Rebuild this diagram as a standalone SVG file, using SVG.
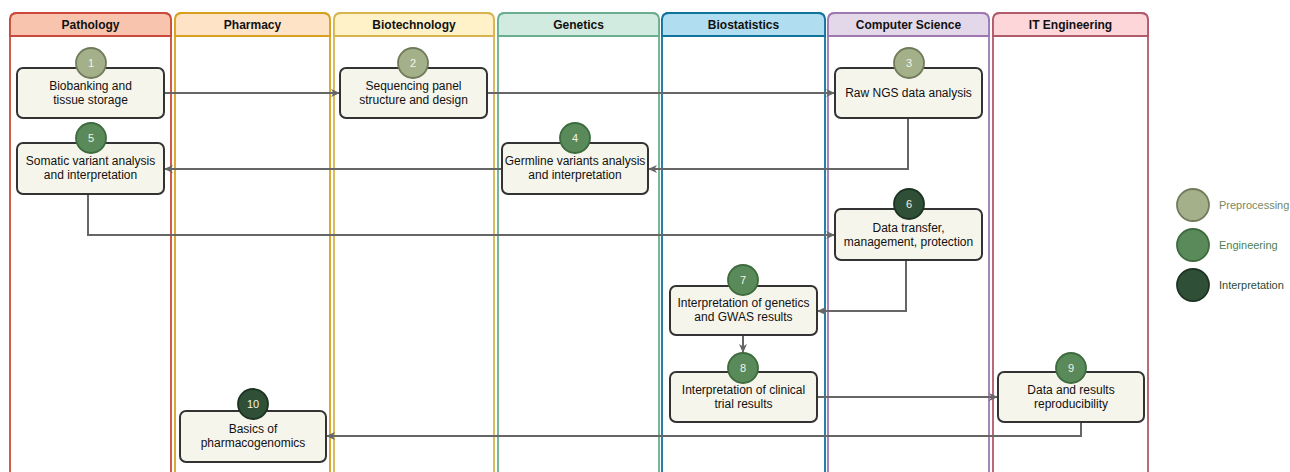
<svg xmlns="http://www.w3.org/2000/svg" width="1290" height="472" viewBox="0 0 1290 472">
<defs>
<style>
.lane{fill:#ffffff;stroke-width:1.8}
.hdr{stroke-width:1.8}
.ht{font-family:"Liberation Sans",Arial,sans-serif;font-weight:bold;font-size:12px;text-anchor:middle;fill:#111}
.box{fill:#f6f5ec;stroke:#333333;stroke-width:2}
.t{font-family:"Liberation Sans",Arial,sans-serif;font-size:12px;text-anchor:middle;fill:#111}
.n{font-family:"Liberation Sans",Arial,sans-serif;font-size:11px;text-anchor:middle;fill:#f4f4ea}
.pre{fill:#a3b08a;stroke:#6f7b5a;stroke-width:1.8}
.eng{fill:#5a8a5a;stroke:#3d6b3d;stroke-width:1.8}
.int{fill:#2f5036;stroke:#1e3323;stroke-width:1.8}
.c{fill:none;stroke:#666666;stroke-width:2}
.lg{font-family:"Liberation Sans",Arial,sans-serif;font-size:11px}
</style>
<marker id="arr" markerWidth="10" markerHeight="10" refX="8" refY="5" orient="auto" markerUnits="userSpaceOnUse">
<path d="M0,1 L9,5 L0,9 L2.5,5 Z" fill="#666666"/>
</marker>
</defs>

<g id="lanes">
<g id="lane-pathology">
<path class="lane" stroke="#c94a3a" d="M10,476 V20 Q10,13 17,13 H164 Q171,13 171,20 V476"/>
<path class="hdr" fill="#f9c4ae" stroke="#c94a3a" d="M10,36 V20 Q10,13 17,13 H164 Q171,13 171,20 V36 Z"/>
<text class="ht" x="90.5" y="29">Pathology</text>
</g>
<g id="lane-pharmacy">
<path class="lane" stroke="#d9a020" d="M175,476 V20 Q175,13 182,13 H323 Q330,13 330,20 V476"/>
<path class="hdr" fill="#ffe3c6" stroke="#d9a020" d="M175,36 V20 Q175,13 182,13 H323 Q330,13 330,20 V36 Z"/>
<text class="ht" x="252.5" y="29">Pharmacy</text>
</g>
<g id="lane-biotech">
<path class="lane" stroke="#d8b450" d="M334,476 V20 Q334,13 341,13 H487 Q494,13 494,20 V476"/>
<path class="hdr" fill="#fff1c8" stroke="#d8b450" d="M334,36 V20 Q334,13 341,13 H487 Q494,13 494,20 V36 Z"/>
<text class="ht" x="414" y="29">Biotechnology</text>
</g>
<g id="lane-genetics">
<path class="lane" stroke="#6aae8f" d="M498,476 V20 Q498,13 505,13 H652 Q659,13 659,20 V476"/>
<path class="hdr" fill="#d2ebe0" stroke="#6aae8f" d="M498,36 V20 Q498,13 505,13 H652 Q659,13 659,20 V36 Z"/>
<text class="ht" x="578.5" y="29">Genetics</text>
</g>
<g id="lane-biostat">
<path class="lane" stroke="#10739e" d="M662,476 V20 Q662,13 669,13 H818 Q825,13 825,20 V476"/>
<path class="hdr" fill="#b1ddf0" stroke="#10739e" d="M662,36 V20 Q662,13 669,13 H818 Q825,13 825,20 V36 Z"/>
<text class="ht" x="743.5" y="29">Biostatistics</text>
</g>
<g id="lane-cs">
<path class="lane" stroke="#9f78b2" d="M828,476 V20 Q828,13 835,13 H982 Q989,13 989,20 V476"/>
<path class="hdr" fill="#e3d7ea" stroke="#9f78b2" d="M828,36 V20 Q828,13 835,13 H982 Q989,13 989,20 V36 Z"/>
<text class="ht" x="908.5" y="29">Computer Science</text>
</g>
<g id="lane-it">
<path class="lane" stroke="#b05a6a" d="M993,476 V20 Q993,13 1000,13 H1141 Q1148,13 1148,20 V476"/>
<path class="hdr" fill="#fdd6da" stroke="#b05a6a" d="M993,36 V20 Q993,13 1000,13 H1141 Q1148,13 1148,20 V36 Z"/>
<text class="ht" x="1070.5" y="29">IT Engineering</text>
</g>
</g>

<g id="connectors">
<path class="c" marker-end="url(#arr)" d="M164,93 H339"/>
<path class="c" marker-end="url(#arr)" d="M487,93 H834"/>
<path class="c" marker-end="url(#arr)" d="M908,118 V169 H649"/>
<path class="c" marker-end="url(#arr)" d="M502,169 H165"/>
<path class="c" marker-end="url(#arr)" d="M88,194 V235 H834"/>
<path class="c" marker-end="url(#arr)" d="M906,260 V311 H818"/>
<path class="c" marker-end="url(#arr)" d="M743,335 V352"/>
<path class="c" marker-end="url(#arr)" d="M817,397 H997"/>
<path class="c" marker-end="url(#arr)" d="M1081,422 V436 H327"/>
</g>

<g id="node1">
<rect class="box" x="17" y="68" width="147" height="50" rx="6"/>
<text class="t" x="90.5" y="90">Biobanking and</text>
<text class="t" x="90.5" y="104">tissue storage</text>
<circle class="pre" cx="91" cy="63" r="15"/>
<text class="n" x="91" y="67">1</text>
</g>
<g id="node2">
<rect class="box" x="340" y="68" width="147" height="50" rx="6"/>
<text class="t" x="413.5" y="90">Sequencing panel</text>
<text class="t" x="413.5" y="104">structure and design</text>
<circle class="pre" cx="413" cy="63" r="15"/>
<text class="n" x="413" y="67">2</text>
</g>
<g id="node3">
<rect class="box" x="835" y="68" width="147" height="50" rx="6"/>
<text class="t" x="908.5" y="97">Raw NGS data analysis</text>
<circle class="pre" cx="909" cy="63" r="15"/>
<text class="n" x="909" y="67">3</text>
</g>
<g id="node4">
<rect class="box" x="502" y="143" width="146" height="51" rx="6"/>
<text class="t" x="575" y="165">Germline variants analysis</text>
<text class="t" x="575" y="179">and interpretation</text>
<circle class="eng" cx="575" cy="138" r="15"/>
<text class="n" x="575" y="142">4</text>
</g>
<g id="node5">
<rect class="box" x="17" y="143" width="147" height="51" rx="6"/>
<text class="t" x="90.5" y="165">Somatic variant analysis</text>
<text class="t" x="90.5" y="179">and interpretation</text>
<circle class="eng" cx="91" cy="138" r="15"/>
<text class="n" x="91" y="142">5</text>
</g>
<g id="node6">
<rect class="box" x="835" y="209" width="147" height="51" rx="6"/>
<text class="t" x="908.5" y="232">Data transfer,</text>
<text class="t" x="908.5" y="246">management, protection</text>
<circle class="int" cx="909" cy="204" r="15"/>
<text class="n" x="909" y="208">6</text>
</g>
<g id="node7">
<rect class="box" x="670" y="286" width="147" height="49" rx="6"/>
<text class="t" x="743.5" y="307">Interpretation of genetics</text>
<text class="t" x="743.5" y="321">and GWAS results</text>
<circle class="eng" cx="743" cy="280" r="15"/>
<text class="n" x="743" y="284">7</text>
</g>
<g id="node8">
<rect class="box" x="670" y="372" width="147" height="50" rx="6"/>
<text class="t" x="743.5" y="394">Interpretation of clinical</text>
<text class="t" x="743.5" y="408">trial results</text>
<circle class="eng" cx="743" cy="368" r="15"/>
<text class="n" x="743" y="372">8</text>
</g>
<g id="node9">
<rect class="box" x="998" y="372" width="146" height="50" rx="6"/>
<text class="t" x="1071" y="394">Data and results</text>
<text class="t" x="1071" y="408">reproducibility</text>
<circle class="eng" cx="1071" cy="368" r="15"/>
<text class="n" x="1071" y="372">9</text>
</g>
<g id="node10">
<rect class="box" x="180" y="411" width="146" height="51" rx="6"/>
<text class="t" x="253" y="433">Basics of</text>
<text class="t" x="253" y="447">pharmacogenomics</text>
<circle class="int" cx="253" cy="404" r="15"/>
<text class="n" x="253" y="408">10</text>
</g>

<g id="legend">
<circle class="pre" cx="1193" cy="205" r="16"/>
<text class="lg" x="1219" y="209" fill="#77875f">Preprocessing</text>
<circle class="eng" cx="1193" cy="245" r="16"/>
<text class="lg" x="1219" y="249" fill="#4f7f4f">Engineering</text>
<circle class="int" cx="1193" cy="285" r="16"/>
<text class="lg" x="1219" y="289" fill="#2d4d35">Interpretation</text>
</g>
</svg>
